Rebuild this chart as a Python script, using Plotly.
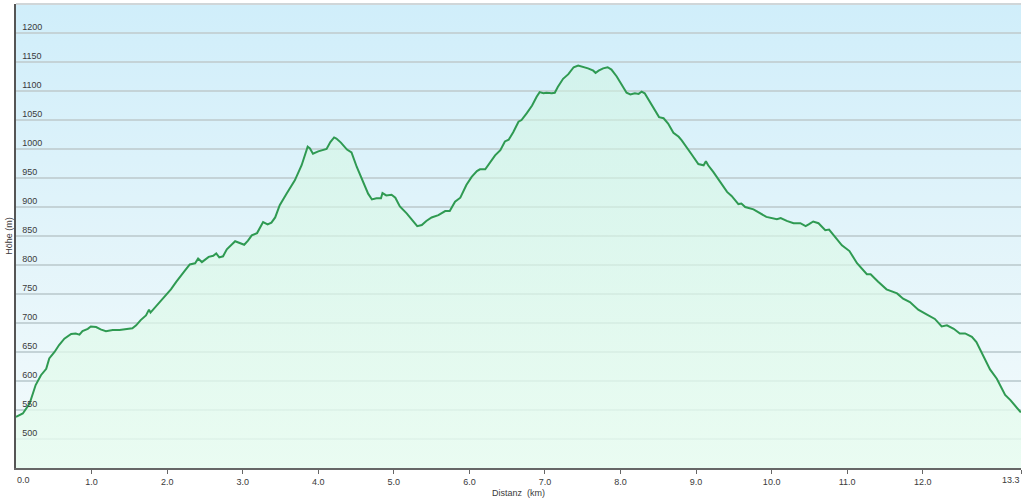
import base64
import plotly.graph_objects as go

distance_km = [
    0.00, 0.09, 0.18, 0.22, 0.26, 0.33, 0.40, 0.44, 0.51, 0.57, 0.64, 0.73, 0.79, 0.84, 0.88,
    0.95, 0.99, 1.06, 1.12, 1.19, 1.28, 1.37, 1.46, 1.54, 1.59, 1.65, 1.72, 1.76, 1.78, 1.85,
    1.94, 2.05, 2.12, 2.18, 2.24, 2.30, 2.37, 2.41, 2.46, 2.55, 2.61, 2.65, 2.69, 2.74, 2.79,
    2.90, 2.96, 3.02, 3.07, 3.12, 3.19, 3.27, 3.33, 3.38, 3.43, 3.49, 3.58, 3.69, 3.78, 3.82,
    3.86, 3.89, 3.93, 4.00, 4.07, 4.11, 4.16, 4.21, 4.24, 4.30, 4.38, 4.44, 4.51, 4.60, 4.66,
    4.71, 4.77, 4.83, 4.85, 4.90, 4.97, 5.02, 5.08, 5.17, 5.26, 5.31, 5.37, 5.43, 5.50, 5.59,
    5.68, 5.74, 5.81, 5.88, 5.96, 6.03, 6.10, 6.14, 6.21, 6.27, 6.34, 6.41, 6.47, 6.52, 6.58,
    6.65, 6.69, 6.76, 6.83, 6.89, 6.93, 6.98, 7.02, 7.09, 7.13, 7.17, 7.24, 7.31, 7.38, 7.44,
    7.51, 7.57, 7.64, 7.67, 7.71, 7.77, 7.83, 7.88, 7.95, 8.01, 8.08, 8.13, 8.19, 8.24, 8.28,
    8.32, 8.39, 8.45, 8.51, 8.57, 8.63, 8.70, 8.77, 8.81, 8.88, 8.94, 9.03, 9.10, 9.13, 9.16,
    9.23, 9.32, 9.41, 9.47, 9.56, 9.60, 9.65, 9.76, 9.85, 9.93, 10.07, 10.12, 10.20, 10.29, 10.38,
    10.45, 10.49, 10.55, 10.62, 10.71, 10.76, 10.84, 10.93, 11.03, 11.13, 11.26, 11.31, 11.41, 11.52, 11.66,
    11.74, 11.83, 11.94, 12.05, 12.16, 12.25, 12.32, 12.41, 12.49, 12.56, 12.65, 12.71, 12.80, 12.89, 12.98,
    13.09, 13.16, 13.22, 13.29, 13.30,
]
elevation_m = [
    538, 544, 561, 578, 593, 610, 621, 639, 650, 662, 673, 681, 682, 680, 686,
    690, 694, 693, 689, 686, 688, 688, 689, 691, 696, 705, 713, 723, 718, 728,
    742, 758, 771, 782, 791, 801, 803, 811, 805, 814, 816, 820, 813, 815, 827,
    841, 838, 835, 842, 851, 855, 874, 870, 873, 882, 903, 923, 946, 972, 989,
    1004, 1001, 992, 996, 999, 1000, 1012, 1020, 1018, 1011, 999, 994, 969, 943, 923,
    913, 915, 915, 924, 920, 921, 916, 901, 889, 874, 867, 869, 876, 882, 886,
    893, 893, 909, 916, 938, 952, 962, 965, 965, 976, 989, 998, 1013, 1016, 1029,
    1047, 1050, 1062, 1075, 1090, 1098, 1096, 1097, 1096, 1097, 1107, 1121, 1129, 1141, 1144,
    1142, 1139, 1135, 1131, 1135, 1139, 1141, 1137, 1125, 1113, 1097, 1094, 1096, 1095, 1099,
    1096, 1081, 1067, 1055, 1053, 1044, 1028, 1021, 1015, 1001, 991, 974, 972, 979, 972,
    960, 943, 926, 919, 905, 906, 900, 896, 889, 883, 879, 881, 876, 872, 872,
    867, 870, 875, 872, 860, 861, 848, 834, 824, 803, 784, 784, 771, 758, 751,
    742, 736, 723, 715, 707, 694, 696, 690, 682, 682, 676, 667, 644, 620, 604,
    576, 567, 557, 547, 546,
]

y_ticks = [500, 550, 600, 650, 700, 750, 800, 850, 900, 950, 1000, 1050, 1100, 1150, 1200]
x_ticks = [0, 1, 2, 3, 4, 5, 6, 7, 8, 9, 10, 11, 12, 13.3]
x_tick_labels = ["0.0", "1.0", "2.0", "3.0", "4.0", "5.0", "6.0", "7.0", "8.0", "9.0",
                 "10.0", "11.0", "12.0", "13.3"]

X_MAX = 13.3
Y_MIN, Y_MAX = 450, 1250
FONT = "Liberation Sans, Arial, sans-serif"
TXT = "#3a3a3a"

# vertical background gradient as an SVG image (drawn under the gridlines)
svg = (
    '<svg xmlns="http://www.w3.org/2000/svg" width="100" height="100" preserveAspectRatio="none">'
    '<defs><linearGradient id="g" x1="0" y1="0" x2="0" y2="1">'
    '<stop offset="0" stop-color="#d0eefa"/>'
    '<stop offset="0.5" stop-color="#e2f4fa"/>'
    '<stop offset="1" stop-color="#f4fbfc"/>'
    '</linearGradient></defs>'
    '<rect width="100" height="100" fill="url(#g)"/></svg>'
)
bg_src = "data:image/svg+xml;base64," + base64.b64encode(svg.encode()).decode()

fig = go.Figure()

fig.add_trace(go.Scatter(
    x=distance_km, y=elevation_m, mode="lines",
    line=dict(color="#2f9a52", width=2),
    fill="tozeroy",
    fillgradient=dict(type="vertical", start=Y_MIN, stop=Y_MAX,
                      colorscale=[[0, "rgba(232,252,240,0.85)"],
                                  [1, "rgba(205,245,222,0.45)"]]),
    hoverinfo="x+y", showlegend=False,
))

fig.add_layout_image(dict(
    source=bg_src, xref="paper", yref="paper", x=0, y=1, sizex=1, sizey=1,
    xanchor="left", yanchor="top", sizing="stretch", layer="below",
))

# end labels are kept inside the plot width (as in the reference)
inner_text = [t if 0 < v < X_MAX else "" for v, t in zip(x_ticks, x_tick_labels)]

fig.update_layout(
    width=1024, height=502,
    margin=dict(l=16, r=3, t=4, b=34),
    paper_bgcolor="white", plot_bgcolor="#e8f7fb",
    font=dict(family=FONT, size=9, color=TXT),
    showlegend=False,
    xaxis=dict(
        range=[0, X_MAX], tickvals=x_ticks, ticktext=inner_text,
        showgrid=False, zeroline=False,
        showline=True, linecolor="#666", linewidth=2,
        ticks="outside", ticklen=4, tickcolor="#666",
        ticklabeloverflow="allow",
        tickfont=dict(size=9, color=TXT),
        title=dict(text="Distanz\u00a0\u00a0(km)", font=dict(size=9, color=TXT), standoff=4),
        automargin=False,
    ),
    yaxis=dict(
        range=[Y_MIN, Y_MAX], tickvals=y_ticks,
        showgrid=True, gridcolor="#c4d3d7", gridwidth=1.5,
        zeroline=False,
        showline=True, linecolor="#555", linewidth=2,
        ticks="", ticklabelposition="inside top", ticklabelstandoff=4,
        tickfont=dict(size=9, color=TXT),
        title=dict(text="Höhe (m)", font=dict(size=9, color=TXT), standoff=8),
        automargin=False,
    ),
)

for v, t in zip(x_ticks, x_tick_labels):
    if v == 0:
        fig.add_annotation(x=v, y=0, xref="x", yref="paper", text=t, showarrow=False,
                           xanchor="left", yanchor="top", yshift=-5, xshift=-1,
                           font=dict(size=9, color=TXT))
    elif v == X_MAX:
        fig.add_annotation(x=v, y=0, xref="x", yref="paper", text=t, showarrow=False,
                           xanchor="right", yanchor="top", yshift=-5, xshift=1,
                           font=dict(size=9, color=TXT))

# light top border of the plot area
fig.add_shape(type="line", xref="paper", yref="paper", x0=0, x1=1, y0=1, y1=1,
              line=dict(color="#d0d6d8", width=2))

fig.write_html("out.html", config={"displayModeBar": False},
               post_script="document.body.style.margin='0';document.body.style.padding='0';")
